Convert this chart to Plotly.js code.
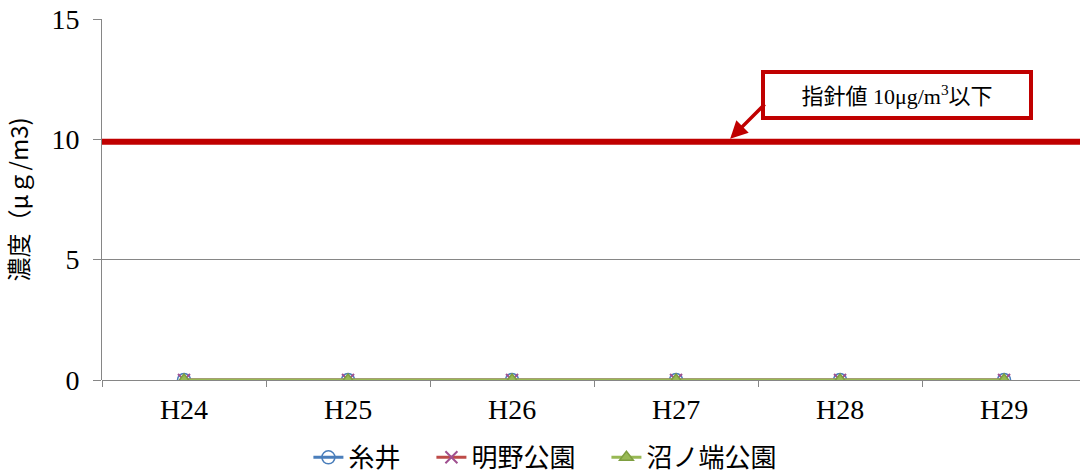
<!DOCTYPE html>
<html>
<head>
<meta charset="utf-8">
<script src="https://cdn.plot.ly/plotly-3.0.1.min.js"></script>
<style>html,body{margin:0;padding:0;background:#fff;}#chart{width:1080px;height:474px;}</style>
</head>
<body>
<div id="chart"></div>
<script>
var categories = ["H24", "H25", "H26", "H27", "H28", "H29"];
var seriesNames = ["糸井", "明野公園", "沼ノ端公園"];
var itoi = [0, 0, 0, 0, 0, 0];
var akeno = [0, 0, 0, 0, 0, 0];
var numanohata = [0, 0, 0, 0, 0, 0];
var guidelineValue = 9.9;
var guidelineLabel = "指針値 10μg/m<sup>3</sup>以下";
var yTicks = [0, 5, 10, 15];

var serif = "Liberation Serif, DejaVu Serif, serif";
var cjk = "Liberation Serif, Noto Sans CJK JP, serif";
var gap = "\u2003";

var traces = [
  {x: categories, y: itoi, name: seriesNames[0] + gap, type: "scatter", mode: "lines+markers",
   line: {color: "#4A7EBB", width: 3}, marker: {symbol: "circle-open", size: 13, color: "#4A7EBB", line: {width: 1.5}}},
  {x: categories, y: akeno, name: seriesNames[1] + gap, type: "scatter", mode: "lines+markers",
   line: {color: "#BE4B48", width: 3}, marker: {symbol: "x-thin-open", size: 12, color: "#A05090", line: {width: 2, color: "#A05090"}}},
  {x: categories, y: numanohata, name: seriesNames[2], type: "scatter", mode: "lines+markers",
   line: {color: "#98B954", width: 3}, marker: {symbol: "triangle-up", size: 12, color: "#98B954", line: {width: 1.5, color: "#7E9E40"}}}
];

var layout = {
  width: 1080, height: 474,
  margin: {l: 102, r: 0, t: 19, b: 94},
  paper_bgcolor: "#fff", plot_bgcolor: "#fff",
  showlegend: true,
  legend: {orientation: "h", xref: "container", yref: "container", x: 0.505, xanchor: "center", y: 0.035, yanchor: "middle",
           font: {family: "Noto Sans CJK JP, sans-serif", size: 26, color: "#000"}, tracegroupgap: 0},
  xaxis: {type: "category", range: [-0.5, 5.463], tickson: "boundaries", ticks: "outside", ticklen: 6, tickcolor: "#868686",
          showline: false, showgrid: false, zeroline: false, fixedrange: true, ticklabelstandoff: 10,
          tickfont: {family: serif, size: 28, color: "#000"}},
  yaxis: {range: [0, 15], tickvals: yTicks, ticks: "outside", ticklen: 8, tickcolor: "#868686", ticklabelstandoff: 8,
          showline: true, linecolor: "#868686", linewidth: 1, showgrid: true, gridcolor: "#868686", gridwidth: 1,
          zeroline: true, zerolinecolor: "#868686", zerolinewidth: 1,
          tickfont: {family: serif, size: 28, color: "#000"},
          title: {text: "濃度（μｇ/m3)", font: {family: "Noto Sans CJK JP, sans-serif", size: 24, color: "#000"}, standoff: 18}},
  shapes: [
    {type: "line", xref: "paper", x0: 0, x1: 1, yref: "y", y0: guidelineValue, y1: guidelineValue,
     line: {color: "#C00000", width: 6}}
  ],
  annotations: [
    {xref: "x", yref: "y", x: 4.35, y: 11.85, text: guidelineLabel, showarrow: false,
     width: 264, height: 42, bgcolor: "#fff", bordercolor: "#C00000", borderwidth: 4, borderpad: 0,
     font: {family: cjk, size: 22, color: "#000"}, align: "center"},
    {xref: "x", yref: "y", x: 3.33, y: guidelineValue + 0.12, text: "", showarrow: true,
     arrowhead: 2, arrowsize: 1, arrowwidth: 3.5, arrowcolor: "#C00000",
     ax: 36, ay: -36, axref: "pixel", ayref: "pixel", standoff: 0, startstandoff: 0}
  ]
};

Plotly.newPlot("chart", traces, layout, {displayModeBar: false, staticPlot: true});
</script>
</body>
</html>
